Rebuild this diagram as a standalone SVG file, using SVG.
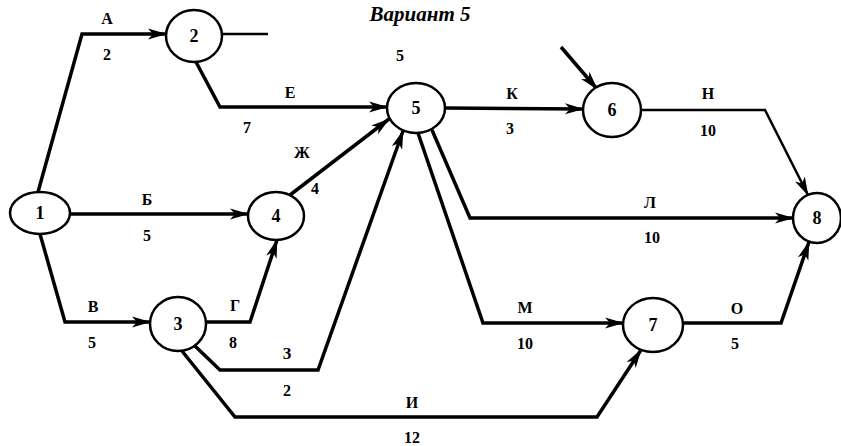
<svg xmlns="http://www.w3.org/2000/svg" width="841" height="446" viewBox="0 0 841 446">
<defs>
<marker id="arr" markerUnits="userSpaceOnUse" viewBox="-20 -7 22 14" refX="0" refY="0" markerWidth="22" markerHeight="14" orient="auto">
<path d="M1,0 L-18,-5.5 L-13,0 L-18,5.5 Z" fill="#000"/>
</marker>
</defs>
<style>
.n ellipse{fill:#fff;stroke:#000;stroke-width:2.5}
.n text{font-family:"Liberation Serif",serif;font-weight:bold;font-size:18px;text-anchor:middle}
.c polyline,.c line{fill:none;stroke:#000;stroke-width:3.5;stroke-linejoin:miter}
.a{marker-end:url(#arr)}
.thin{stroke-width:2.5 !important}
.l text{font-family:"Liberation Serif",serif;font-weight:bold;font-size:16px;text-anchor:middle}
.t{font-family:"Liberation Serif",serif;font-weight:bold;font-style:italic;font-size:21px;text-anchor:middle}
</style>
<rect width="841" height="446" fill="#fff"/>
<text class="t" x="420" y="21">Вариант 5</text>
<g class="c" id="connectors">
<polyline class="a" points="38,192 82,34 166,34"/>
<line class="thin" x1="222" y1="34" x2="268" y2="34"/>
<polyline class="a" points="196,62 220,107 387,107"/>
<line class="a" x1="445" y1="108" x2="583" y2="109"/>
<line class="a" x1="561" y1="47" x2="597" y2="89"/>
<polyline class="a thin" points="641,110 765,110 808,195"/>
<line class="a" x1="70" y1="214" x2="248" y2="214"/>
<line class="a" x1="290" y1="195" x2="389" y2="119"/>
<polyline class="a" points="432,130 470,218 793,218"/>
<polyline class="a" points="418,133 483,323 623,323"/>
<polyline class="a" points="683,323 781,323 809,242"/>
<polyline class="a" points="40,234 65,322 150,322"/>
<polyline class="a" points="206,322 250,322 277,240"/>
<polyline class="a" points="195,346 220,370 318,370 403,131"/>
<polyline class="a" points="182,351 235,417 597,417 641,350"/>
</g>
<g class="l" id="labels">
<text x="107" y="24">А</text><text x="107" y="60">2</text>
<text x="290" y="98">Е</text><text x="247" y="133">7</text>
<text x="400" y="61">5</text>
<text x="302" y="158">Ж</text><text x="315" y="194">4</text>
<text x="512" y="99">К</text><text x="510" y="134">3</text>
<text x="708" y="99">Н</text><text x="708" y="136">10</text>
<text x="147" y="205">Б</text><text x="147" y="241">5</text>
<text x="650" y="208">Л</text><text x="652" y="243">10</text>
<text x="93" y="312">В</text><text x="92" y="348">5</text>
<text x="235" y="311">Г</text><text x="233" y="348">8</text>
<text x="287" y="359">З</text><text x="287" y="396">2</text>
<text x="525" y="313">М</text><text x="525" y="349">10</text>
<text x="737" y="314">О</text><text x="735" y="349">5</text>
<text x="412" y="408">И</text><text x="412" y="443">12</text>
</g>
<g class="n" id="node1"><ellipse cx="40" cy="213" rx="30" ry="21"/><text x="40" y="219">1</text></g>
<g class="n" id="node2"><ellipse cx="194" cy="36" rx="28" ry="26"/><text x="194" y="42">2</text></g>
<g class="n" id="node3"><ellipse cx="178" cy="324" rx="28" ry="27"/><text x="178" y="330">3</text></g>
<g class="n" id="node4"><ellipse cx="276" cy="216" rx="28" ry="24"/><text x="276" y="222">4</text></g>
<g class="n" id="node5"><ellipse cx="416" cy="108" rx="29" ry="25"/><text x="416" y="114">5</text></g>
<g class="n" id="node6"><ellipse cx="612" cy="110" rx="29" ry="27"/><text x="612" y="116">6</text></g>
<g class="n" id="node7"><ellipse cx="653" cy="325" rx="30" ry="27"/><text x="653" y="331">7</text></g>
<g class="n" id="node8"><ellipse cx="817" cy="218" rx="24" ry="25"/><text x="817" y="224">8</text></g>
</svg>
